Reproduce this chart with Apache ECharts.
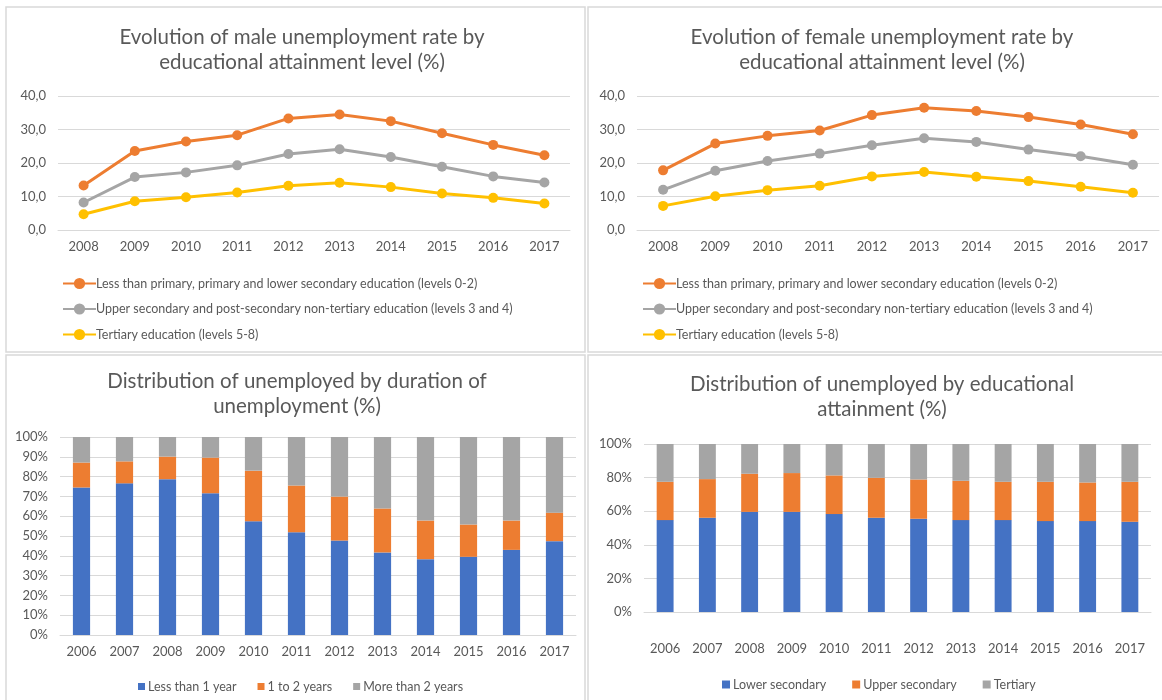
<!DOCTYPE html>
<html>
<head>
<meta charset="utf-8">
<script src="https://cdn.jsdelivr.net/npm/echarts@6/dist/echarts.min.js"></script>
<style>
  html, body { margin: 0; padding: 0; background: #fff; }
  #main { width: 1162px; height: 700px; }
</style>
</head>
<body>
<div id="main"></div>
<script>
// years on the two line charts
const lineYears = ["2008", "2009", "2010", "2011", "2012", "2013", "2014", "2015", "2016", "2017"];
// years on the two bar charts
const barYears = ["2006", "2007", "2008", "2009", "2010", "2011", "2012", "2013", "2014", "2015", "2016", "2017"];

const lineNames = [
  "Less than primary, primary and lower secondary education (levels 0-2)",
  "Upper secondary and post-secondary non-tertiary education (levels 3 and 4)",
  "Tertiary education (levels 5-8)",
];

// male unemployment rate (%)
const maleLow = [13.3, 23.6, 26.4, 28.3, 33.3, 34.5, 32.5, 28.9, 25.4, 22.3];
const maleMid = [8.2, 15.8, 17.2, 19.3, 22.7, 24.1, 21.8, 18.9, 16.0, 14.2];
const maleHigh = [4.7, 8.6, 9.8, 11.2, 13.2, 14.1, 12.8, 10.9, 9.6, 7.9];

// female unemployment rate (%)
const femaleLow = [17.8, 25.8, 28.1, 29.7, 34.3, 36.5, 35.5, 33.7, 31.5, 28.6];
const femaleMid = [12.0, 17.7, 20.6, 22.8, 25.3, 27.4, 26.3, 24.0, 22.0, 19.5];
const femaleHigh = [7.2, 10.1, 11.9, 13.2, 16.0, 17.3, 15.9, 14.6, 12.9, 11.1];

// unemployed by duration (%)
const durNames = ["Less than 1 year", "1 to 2 years", "More than 2 years"];
const durLess1 = [74.5, 76.6, 78.7, 71.6, 57.5, 51.9, 47.7, 41.7, 38.3, 39.5, 43.0, 47.4];
const dur1to2 = [12.6, 11.1, 11.4, 18.0, 25.5, 23.6, 22.2, 22.2, 19.5, 16.3, 14.8, 14.4];
const durMore2 = [12.9, 12.3, 9.9, 10.4, 17.0, 24.5, 30.1, 36.1, 42.2, 44.2, 42.2, 38.2];

// unemployed by educational attainment (%)
const eduNames = ["Lower secondary", "Upper secondary", "Tertiary"];
const eduLower = [54.7, 56.1, 59.6, 59.6, 58.3, 56.1, 55.5, 54.7, 54.7, 54.1, 54.1, 53.7];
const eduUpper = [22.8, 23.0, 22.7, 23.1, 23.0, 23.8, 23.4, 23.4, 22.8, 23.4, 23.0, 23.8];
const eduTertiary = [22.5, 20.9, 17.7, 17.3, 18.7, 20.1, 21.1, 21.9, 22.5, 22.5, 22.9, 22.5];

const FONT = "Lato";
const TXT = "#595959";
const GRID = "#d9d9d9";
const ORANGE = "#ed7d31";
const GREY = "#a5a5a5";
const YELLOW = "#ffc000";
const BLUE = "#4472c4";

const chart = echarts.init(document.getElementById("main"));

function titleAt(text, x, y) {
  return {
    text: text,
    left: x,
    top: y,
    textAlign: "center",
    textStyle: { fontFamily: FONT, fontSize: 20.5, fontWeight: "normal", color: TXT, lineHeight: 25 },
  };
}

function catAxis(idx, data, margin) {
  return {
    type: "category",
    gridIndex: idx,
    data: data,
    axisLine: { lineStyle: { color: GRID } },
    axisTick: { show: false },
    axisLabel: { color: TXT, fontFamily: FONT, fontSize: 13, margin: margin },
  };
}

function valAxis(idx, max, interval, fmt) {
  return {
    type: "value",
    gridIndex: idx,
    min: 0,
    max: max,
    interval: interval,
    axisLine: { show: false },
    axisTick: { show: false },
    splitLine: { lineStyle: { color: GRID } },
    axisLabel: { color: TXT, fontFamily: FONT, fontSize: 13, margin: 12, formatter: fmt },
  };
}

function lineSeries(name, idx, data, color) {
  return {
    name: name,
    type: "line",
    xAxisIndex: idx,
    yAxisIndex: idx,
    data: data,
    symbol: "circle",
    symbolSize: 10,
    lineStyle: { width: 3, color: color },
    itemStyle: { color: color },
  };
}

function barSeries(name, idx, data, color, stack) {
  return {
    name: name,
    type: "bar",
    stack: stack,
    xAxisIndex: idx,
    yAxisIndex: idx,
    data: data,
    barWidth: "40%",
    itemStyle: { color: color },
  };
}

const lineFmt = (v) => v.toFixed(1).replace(".", ",");
const pctFmt = (v) => v + "%";

function panel(x, y, w, h) {
  return {
    type: "rect",
    shape: { x: x, y: y, width: w, height: h },
    style: { fill: "none", stroke: "#d9d9d9", lineWidth: 1.5 },
    silent: true,
  };
}

const lineLegend = (x) => ({
  data: lineNames,
  orient: "vertical",
  left: x,
  top: 272,
  itemWidth: 33,
  itemHeight: 14,
  itemGap: 12.5,
  textStyle: { color: TXT, fontFamily: FONT, fontSize: 12.5, padding: [0, 0, 0, -5] },
});

const option = {
  animation: false,
  graphic: [
    panel(6, 7, 579, 345),
    panel(588, 7, 580, 345),
    panel(6, 355, 579, 350),
    panel(588, 355, 580, 350),
  ],
  title: [
    titleAt("Evolution of male unemployment rate by\neducational attainment level (%)", 297, 20),
    titleAt("Evolution of female unemployment rate by\neducational attainment level (%)", 877, 20),
    titleAt("Distribution of unemployed by duration of\nunemployment (%)", 292, 364),
    titleAt("Distribution of unemployed by educational\nattainment (%)", 877, 367),
  ],
  legend: [
    lineLegend(57),
    lineLegend(637),
    {
      data: durNames,
      left: 133,
      top: 675,
      icon: "rect",
      itemWidth: 7,
      itemHeight: 7,
      itemGap: 21,
      textStyle: { color: TXT, fontFamily: FONT, fontSize: 12.5, padding: [0, 0, 0, -2] },
    },
    {
      data: eduNames,
      left: 717,
      top: 673,
      icon: "rect",
      itemWidth: 8,
      itemHeight: 8,
      itemGap: 26,
      textStyle: { color: TXT, fontFamily: FONT, fontSize: 12.5, padding: [0, 0, 0, -2] },
    },
  ],
  grid: [
    { left: 58, top: 96, width: 512, height: 134 },
    { left: 637, top: 96, width: 522, height: 134 },
    { left: 60, top: 437, width: 516, height: 198 },
    { left: 644, top: 444, width: 507, height: 168 },
  ],
  xAxis: [
    catAxis(0, lineYears, 10),
    catAxis(1, lineYears, 10),
    catAxis(2, barYears, 10),
    catAxis(3, barYears, 30),
  ],
  yAxis: [
    valAxis(0, 40, 10, lineFmt),
    valAxis(1, 40, 10, lineFmt),
    valAxis(2, 100, 10, pctFmt),
    valAxis(3, 100, 20, pctFmt),
  ],
  series: [
    lineSeries(lineNames[0], 0, maleLow, ORANGE),
    lineSeries(lineNames[1], 0, maleMid, GREY),
    lineSeries(lineNames[2], 0, maleHigh, YELLOW),
    lineSeries(lineNames[0], 1, femaleLow, ORANGE),
    lineSeries(lineNames[1], 1, femaleMid, GREY),
    lineSeries(lineNames[2], 1, femaleHigh, YELLOW),
    barSeries(durNames[0], 2, durLess1, BLUE, "dur"),
    barSeries(durNames[1], 2, dur1to2, ORANGE, "dur"),
    barSeries(durNames[2], 2, durMore2, GREY, "dur"),
    barSeries(eduNames[0], 3, eduLower, BLUE, "edu"),
    barSeries(eduNames[1], 3, eduUpper, ORANGE, "edu"),
    barSeries(eduNames[2], 3, eduTertiary, GREY, "edu"),
  ],
};

chart.setOption(option);
</script>
</body>
</html>
